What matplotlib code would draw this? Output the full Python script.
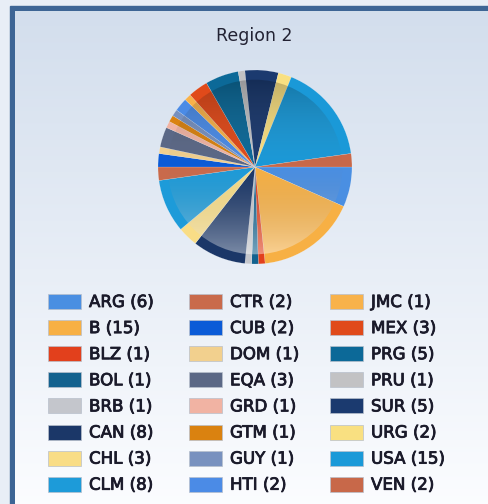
import matplotlib.pyplot as plt
import matplotlib.patheffects as pe
import numpy as np
from matplotlib.patches import Rectangle, Circle

W, H = 489, 504

codes = ["ARG", "B", "BLZ", "BOL", "BRB", "CAN", "CHL", "CLM",
         "CTR", "CUB", "DOM", "EQA", "GRD", "GTM", "GUY", "HTI",
         "JMC", "MEX", "PRG", "PRU", "SUR", "URG", "USA", "VEN"]
counts = [6, 15, 1, 1, 1, 8, 3, 8,
          2, 2, 1, 3, 1, 1, 1, 2,
          1, 3, 5, 1, 5, 2, 15, 2]
colors = ["#4a8fe2", "#f7b044", "#e2401c", "#13628f", "#c4c6cc", "#1b3768", "#f9dd86", "#1d9bd9",
          "#c96a4b", "#0b5bd7", "#f2d08e", "#5b6886", "#f1b3a3", "#da8210", "#7891bf", "#4b8be6",
          "#f8b24a", "#e04a1a", "#0c6998", "#c2c2c4", "#1b3a6f", "#f9e081", "#1a99d8", "#c86849"]
title = "Region 2"

fig = plt.figure(figsize=(W / 100, H / 100), dpi=100)

# background + panel
bg = fig.add_axes([0, 0, 1, 1])
bg.axis("off")
bg.add_patch(Rectangle((0, 0), W, H, color="#e8eef6", zorder=0))
bg.add_patch(Rectangle((10, 6), W, H, color="#3d6595", zorder=1))
grad = np.linspace(0, 1, 256).reshape(-1, 1)
top = np.array([0.827, 0.871, 0.929])
bot = np.array([0.985, 0.99, 1.0])
img = top + (bot - top) * grad[..., None]
bg.imshow(img, extent=(15, W, H, 11), aspect="auto", interpolation="bilinear", zorder=2)
bg.set_xlim(0, W)
bg.set_ylim(H, 0)

bg.text(254, 36, title, ha="center", va="center",
        fontsize=12.5, color="#222233", family="DejaVu Sans", zorder=4)

# pie
cx, cy, r = 255, 167, 97
ax = fig.add_axes([(cx - r) / W, 1 - (cy + r) / H, 2 * r / W, 2 * r / H])
ax.pie(counts, colors=colors, startangle=0, counterclock=False,
       wedgeprops=dict(linewidth=0.2, edgecolor="#ffffff80"))

# soft shading inside the rim: darker on top, lighter at the bottom
n = 300
yy = np.linspace(1, -1, n).reshape(-1, 1) * np.ones((1, n))
shade = np.zeros((n, n, 4))
t = (0.9 - yy) / 1.8
shade[..., :3] = np.clip(t, 0, 1)[..., None]
shade[..., 3] = np.where(t < 0.5, 0.22 * (0.5 - t) * 2, 0.42 * (t - 0.5) * 2)
im = ax.imshow(shade, extent=(-1, 1, -1, 1), interpolation="bilinear", zorder=5)
im.set_clip_path(Circle((0, 0), 0.9, transform=ax.transData))
ax.set_xlim(-1.0, 1.0)
ax.set_ylim(-1.0, 1.0)
ax.axis("off")

# legend
col_x = [48, 189, 330]
row_y0, row_dy = 301.5, 26.1
for i, (c, n_, col) in enumerate(zip(codes, counts, colors)):
    cix, rix = i // 8, i % 8
    x0 = col_x[cix]
    y0 = row_y0 + rix * row_dy
    bg.add_patch(Rectangle((x0, y0 - 7.5), 33, 15, facecolor=col,
                           edgecolor="#b8c0cc", linewidth=0.5, zorder=3))
    bg.text(x0 + 41, y0 + 0.5, f"{c} ({n_})", ha="left", va="center",
            fontsize=12, color="#1a1a2a", family="DejaVu Sans", zorder=4,
            path_effects=[pe.withStroke(linewidth=0.6, foreground="#1a1a2a")])

fig.savefig("out.png", dpi=100)
